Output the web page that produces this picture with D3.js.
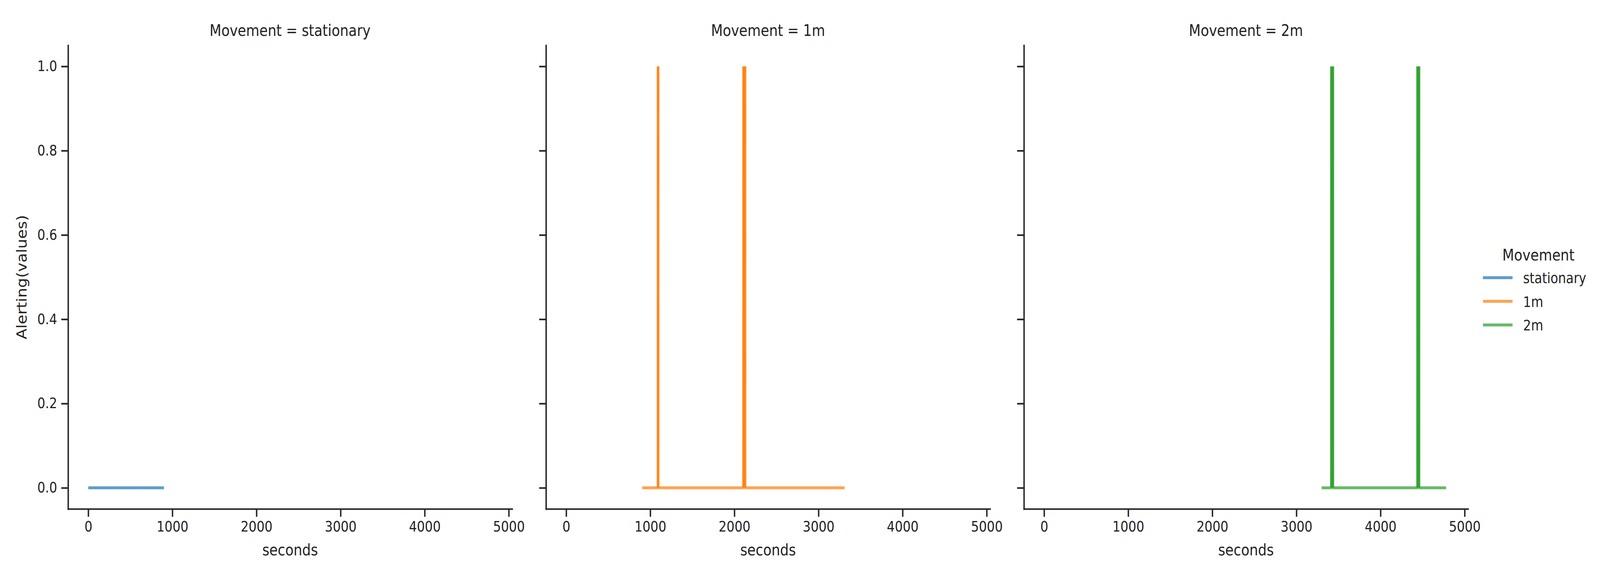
<!DOCTYPE html>
<html>
<head>
<meta charset="utf-8">
<script src="https://cdn.jsdelivr.net/npm/d3@7"></script>
<style>
  html, body { margin: 0; padding: 0; overflow: hidden; background: #fff; }
  #facet-chart { display: block; width: 100vw; height: 100vh; }
  text { font-family: "DejaVu Sans", sans-serif; fill: #222; }
</style>
</head>
<body>
<svg id="facet-chart"></svg>
<script>
// facets of the grid, in column order
var movements = ["stationary", "1m", "2m"];
var colors = ["#1f77b4", "#ff7f0e", "#2ca02c"];

// Alerting(values) against seconds for each movement
var secondsStationary = [0, 300, 600, 900];
var alertStationary   = [0, 0, 0, 0];

var seconds1m = [905, 1092, 1093, 1094, 2109, 2110, 2111, 2125, 2126, 2127, 3310];
var alert1m   = [0,   0,    1,    0,    0,    1,    0,    0,    1,    0,    0];

var seconds2m = [3300, 3416, 3417, 3418, 3432, 3433, 3434, 4440, 4441, 4442, 4456, 4457, 4458, 4780];
var alert2m   = [0,    0,    1,    0,    0,    1,    0,    0,    1,    0,    0,    1,    0,    0];

var xTicks = [0, 1000, 2000, 3000, 4000, 5000];
var yTicks = [0, 0.2, 0.4, 0.6, 0.8, 1.0];

var seriesSeconds = [secondsStationary, seconds1m, seconds2m];
var seriesAlert = [alertStationary, alert1m, alert2m];

var width = 4702, height = 1462;
var panelLeft = 200, panelStep = 1404.5, panelWidth = 1305;
var panelTop = 116, panelBottom = 1303;
var lineWidth = 7.5;

// viewBox keeps the whole figure inside whatever window it gets
var svg = d3.select("#facet-chart")
  .attr("viewBox", "0 0 " + width + " " + height)
  .attr("preserveAspectRatio", "none");

svg.append("rect")
  .attr("width", width)
  .attr("height", height)
  .attr("fill", "#fff");

// shared scales (sharex / sharey), each panel only shifts them
var y = d3.scaleLinear()
  .domain([-0.05, 1.05])
  .range([panelBottom, panelTop]);

movements.forEach(function(m, i) {
  var left = panelLeft + i * panelStep;
  var x = d3.scaleLinear()
    .domain([-240, 5040])
    .range([left, left + panelWidth]);

  var panel = svg.append("g").attr("class", "panel-" + i);

  // x axis
  var xAxis = panel.append("g")
    .attr("transform", "translate(0," + panelBottom + ")")
    .call(d3.axisBottom(x)
      .tickValues(xTicks)
      .tickFormat(d3.format("d"))
      .tickSize(20)
      .tickSizeOuter(0)
      .tickPadding(12));

  // y axis, labels only on the first facet
  var yAxis = panel.append("g")
    .attr("transform", "translate(" + left + ",0)")
    .call(d3.axisLeft(y)
      .tickValues(yTicks)
      .tickFormat(i === 0 ? d3.format(".1f") : function() { return ""; })
      .tickSize(20)
      .tickSizeOuter(0)
      .tickPadding(12));

  [xAxis, yAxis].forEach(function(ax) {
    ax.select(".domain")
      .attr("stroke", "#262626")
      .attr("stroke-width", 4.2)
      .attr("stroke-linecap", "square");
    ax.selectAll(".tick line")
      .attr("stroke", "#262626")
      .attr("stroke-width", 4.2);
    ax.selectAll(".tick text")
      .attr("fill", "#222")
      .style("font-size", "36.7px")
      .style("font-family", "'DejaVu Sans', sans-serif");
  });

  // one segment per pair of points so the up/down strokes of a spike overlap
  var secs = seriesSeconds[i], vals = seriesAlert[i];
  var segments = d3.pairs(d3.range(secs.length));
  panel.append("g")
    .selectAll("line")
    .data(segments).enter()
    .append("line")
      .attr("x1", function(d) { return x(secs[d[0]]); })
      .attr("y1", function(d) { return y(vals[d[0]]); })
      .attr("x2", function(d) { return x(secs[d[1]]); })
      .attr("y2", function(d) { return y(vals[d[1]]); })
      .attr("stroke", colors[i])
      .attr("stroke-width", lineWidth)
      .attr("stroke-opacity", 0.72)
      .attr("stroke-linecap", "butt");

  // facet title
  panel.append("text")
    .attr("x", left + panelWidth / 2)
    .attr("y", 92)
    .attr("text-anchor", "middle")
    .style("font-size", "40px")
    .text("Movement = " + m);

  panel.append("text")
    .attr("x", left + panelWidth / 2)
    .attr("y", 1422)
    .attr("text-anchor", "middle")
    .style("font-size", "40px")
    .text("seconds");

  if (i === 0) {
    panel.append("text")
      .attr("transform", "translate(78," + ((panelTop + panelBottom) / 2) + ") rotate(-90)")
      .attr("text-anchor", "middle")
      .style("font-size", "40px")
      .text("Alerting(values)");
  }
});

// legend on the right
var legend = svg.append("g").attr("class", "legend");

legend.append("text")
  .attr("x", 4521)
  .attr("y", 667)
  .attr("text-anchor", "middle")
  .style("font-size", "40px")
  .text("Movement");

var entry = legend.selectAll(".entry")
  .data(movements).enter()
  .append("g")
    .attr("class", "entry")
    .attr("transform", function(d, i) { return "translate(0," + (711 + i * 60.5) + ")"; });

entry.append("line")
  .attr("x1", 4358)
  .attr("x2", 4445)
  .attr("stroke", function(d, i) { return colors[i]; })
  .attr("stroke-width", lineWidth)
  .attr("stroke-opacity", 0.72);

entry.append("text")
  .attr("x", 4476)
  .attr("y", 14)
  .style("font-size", "36.7px")
  .text(function(d) { return d; });
</script>
</body>
</html>
